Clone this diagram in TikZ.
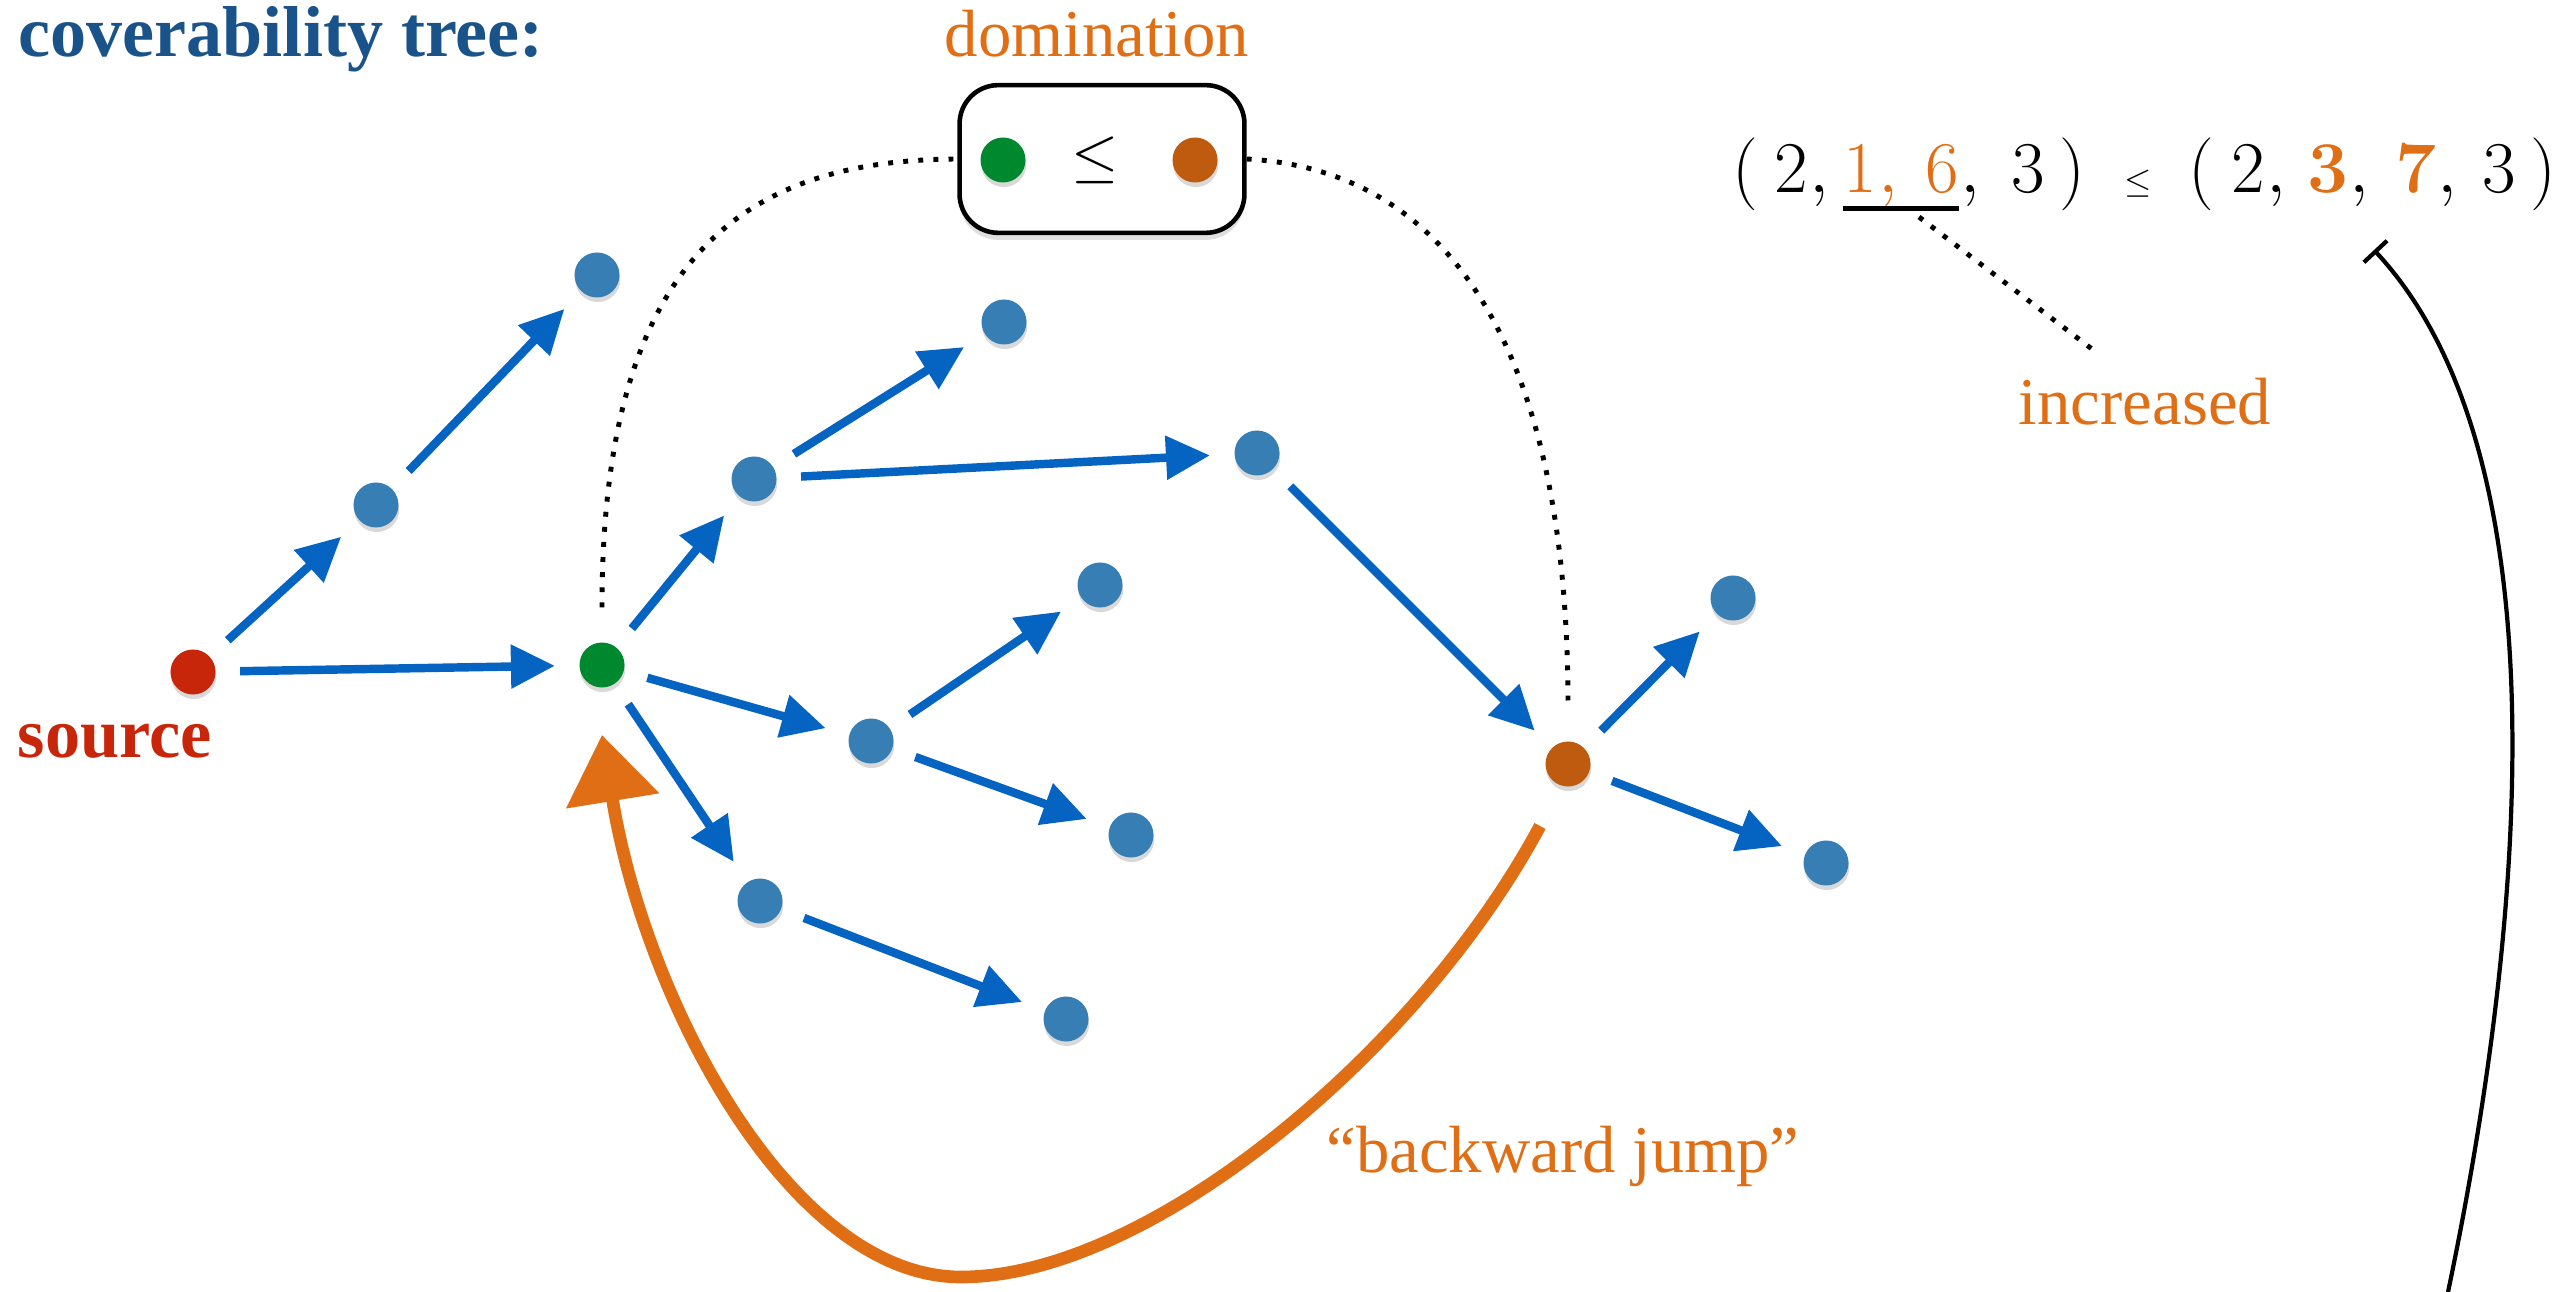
\documentclass[tikz,border=0pt]{standalone}
\usepackage[no-math]{fontspec}
\setmainfont{Liberation Serif}
\usepackage{xcolor}
\usepackage{tikz}
\usetikzlibrary{positioning,arrows.meta,shadows}

\definecolor{treeblue}{HTML}{1A528A}
\definecolor{edgeblue}{HTML}{0563C1}
\definecolor{dotblue}{HTML}{377EB5}
\definecolor{srcred}{HTML}{C8260A}
\definecolor{domgreen}{HTML}{00882E}
\definecolor{domorange}{HTML}{BF5B0F}
\definecolor{hlorange}{HTML}{E06E14}

\begin{document}
\begin{tikzpicture}[x=0.01cm, y=-0.01cm,
    state/.style={circle, fill=dotblue, minimum size=12.8pt, inner sep=0pt, outer sep=7pt,
        drop shadow={shadow xshift=0.2pt, shadow yshift=-1.3pt, opacity=0.3}},
    edge/.style={-{Triangle[length=12.5pt,width=12pt]}, line width=2.4pt, edgeblue},
    jump/.style={-{Triangle[length=19pt,width=26pt]}, line width=3.6pt, hlorange},
    dotline/.style={line width=1.4pt, dash pattern=on 1.4pt off 2.9pt},
    lbl/.style={font=\fontsize{19}{22}\selectfont, text=hlorange, anchor=base, inner sep=0pt},
    tok/.style={font=\fontsize{20}{24}\selectfont, anchor=base, inner sep=0pt}]
    \useasboundingbox (0,0) rectangle (2564,1292);

    \node[anchor=base west, inner sep=0pt, font=\bfseries\fontsize{20.5}{24}\selectfont, text=treeblue] (title) at (18,57) {coverability tree:};

    % the tree
    \node[state, fill=srcred] (s) at (193,672) {};
    \node[state, fill=domgreen] (g) at (602,665) {};
    \node[state, fill=domorange] (o) at (1568,764) {};
    \foreach \n/\x/\y in {n1/376/505, n2/597/275, n3/754/479, n4/1004/322, n5/1257/453,
        n6/871/741, n7/1100/585, n8/1131/835, n9/760/901, n10/1066/1019, n11/1733/598, n12/1826/863}
        \node[state] (\n) at (\x,\y) {};
    \foreach \a/\b in {s/n1, s/g, n1/n2, g/n3, g/n6, g/n9, n3/n4, n3/n5, n5/o,
        n6/n7, n6/n8, n9/n10, o/n11, o/n12}
        \draw[edge] (\a) -- (\b);
    \node[anchor=base west, inner sep=0pt, font=\bfseries\fontsize{20}{24}\selectfont, text=srcred] (srclbl) at (17,758) {source};

    % domination box
    \node[lbl] (domlbl) at (1097,57) {domination};
    \node[draw, line width=1.3pt, rounded corners=11pt, minimum width=81pt, minimum height=42pt, fill=white,
        drop shadow={shadow xshift=0pt, shadow yshift=-2pt, opacity=0.25}] (dombox) at (1102,159) {};
    \node[state, fill=domgreen] (bg) at (1003,160) {};
    \node[state, fill=domorange] (bo) at (1195,160) {};
    \node[font=\fontsize{18}{20}\selectfont] (ble) at (1095,160) {$\leq$};
    \draw[dotline] ([yshift=3pt]g.north) .. controls (602,250) and (750,160) .. (dombox.west);
    \draw[dotline] (dombox.east) .. controls (1450,170) and (1568,350) .. ([yshift=3pt]o.north);

    % backward jump
    \coordinate (jumpstart) at (1540,826);
    \draw[jump] (jumpstart) .. controls (1420,1050) and (1150,1277) .. (961,1277)
        .. controls (790,1277) and (645,1000) .. ([yshift=-6.5pt]g.south);
    \node[lbl] (jumplbl) at (1563,1172) {“backward jump”};

    % the two vectors
    \node[tok] (pa) at (1745,193) {$($};
    \node[tok] (pb) at (2072,193) {$)$};
    \node[tok] (pc) at (2201,193) {$($};
    \node[tok] (pd) at (2543,193) {$)$};
    \foreach \x/\d in {1791/2, 2028/3, 2248/2, 2499/3}
        \node[tok] (d\x) at (\x,193) {$\d$};
    \node[tok, text=hlorange] (one) at (1860,193) {$1$};
    \node[tok, text=hlorange] (six) at (1942,193) {$6$};
    \node[tok, text=hlorange] (bthree) at (2328,193) {$\mathbf{3}$};
    \node[tok, text=hlorange] (bseven) at (2416,193) {$\mathbf{7}$};
    \foreach \d in {d1791, six, d2248, bthree, bseven}
        \node[tok, anchor=base west] (\d c) at (\d.base east) {$,$};
    \node[tok, anchor=base west, text=hlorange] (onec) at (one.base east) {$,$};
    \node[tok, font=\fontsize{10}{12}\selectfont] (vle) at (2138,193) {$\leq$};
    \draw[line width=1.4pt] ([yshift=-4.3pt]one.base west) -- ([yshift=-4.3pt]six.base east);

    \coordinate (ul) at (1919,217);
    \node[lbl] (incr) at (2145,425) {increased};
    \draw[dotline] (ul) -- ([xshift=-13.5pt,yshift=7pt]incr.north);

    % pointer to the vector
    \coordinate (vecref) at (2374,250);
    \coordinate (offpage) at (2448,1292);
    \draw[line width=1.2pt, {Bar[width=9pt,line width=1.2pt]}-] (vecref) .. controls (2560,450) and (2530,900) .. (offpage);
\end{tikzpicture}
\end{document}
